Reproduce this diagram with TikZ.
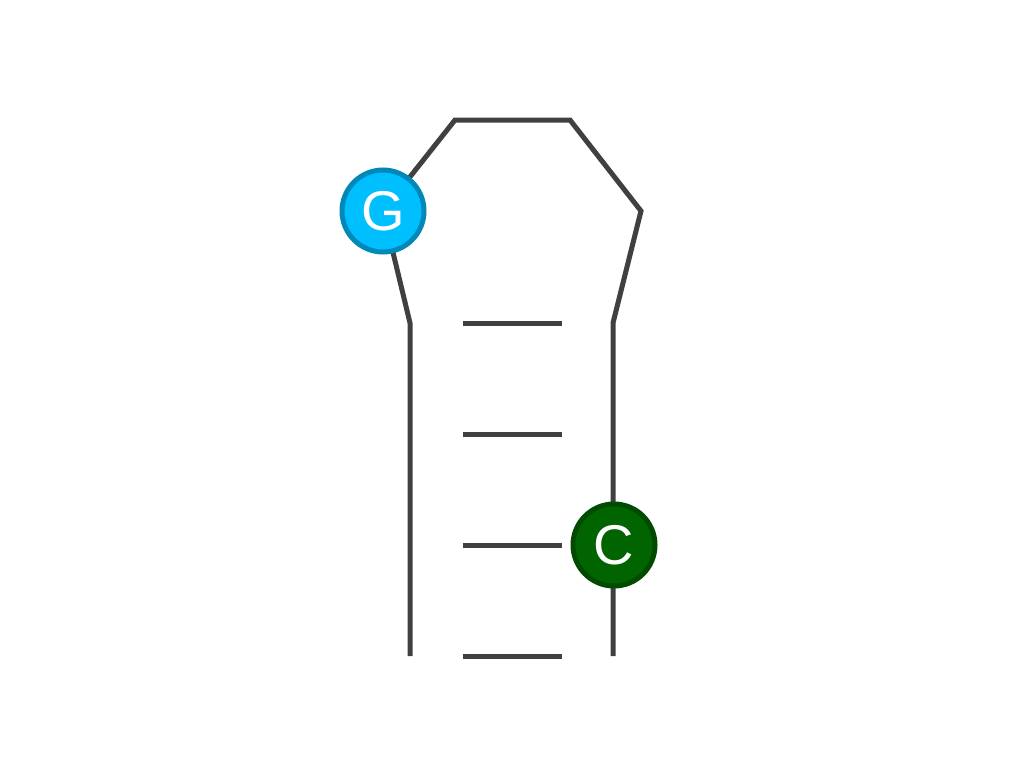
\documentclass[tikz,border=0pt]{standalone}
\usepackage{fontspec}
\setmainfont{Liberation Sans}
\definecolor{strand}{HTML}{404040}
\definecolor{gfill}{HTML}{00BFFF}
\definecolor{gdraw}{HTML}{0089B8}
\definecolor{cfill}{HTML}{006400}
\definecolor{cdraw}{HTML}{004B00}
\tikzset{
  bb/.style={line width=5pt, draw=strand},
  base/.style={circle, minimum size=82pt, inner sep=0pt, line width=5pt, text=white, font=\fontsize{56}{56}\selectfont},
}
\begin{document}
\begin{tikzpicture}[x=1pt,y=-1pt]
\useasboundingbox (0,0) rectangle (1024,768);
\coordinate (l0) at (410,656);
\coordinate (l1) at (410,323);
\coordinate (t1) at (455,120);
\coordinate (t2) at (570,120);
\coordinate (r3) at (641,211);
\coordinate (r1) at (613,323);
\coordinate (r0) at (613,656);
\coordinate (gc) at (383,211);
\coordinate (cc) at (614,545);
\draw[bb, line join=miter] (l0) -- (l1) -- (gc) -- (t1) -- (t2) -- (r3) -- (r1) -- (r0);
\foreach \y/\n in {323/a,434/b,545/c,656/d}{
  \coordinate (ra\n) at (463,\y);
  \coordinate (rb\n) at (562,\y);
  \draw[bb] (ra\n) -- (rb\n);
}
\node[base, fill=gfill, draw=gdraw] (G) at (gc) {G};
\node[base, fill=cfill, draw=cdraw] (C) at (cc) {C};
\end{tikzpicture}
\end{document}
